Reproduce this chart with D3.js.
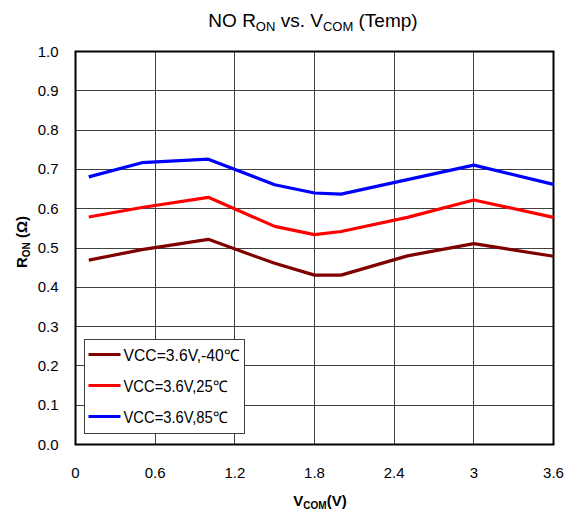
<!DOCTYPE html>
<html>
<head>
  <title>NO RON vs. VCOM (Temp)</title>
  <style type="text/css">
    body { margin: 0; background: #fff; }
    svg { display: block; font-family: "Liberation Sans", Arial, sans-serif; }
  </style>
</head>
<body>
<svg id='vis' width='574' height='517'></svg>

<script src="https://cdnjs.cloudflare.com/ajax/libs/d3/7.8.5/d3.min.js"></script>
<script type="text/javascript">

  // data
  var vcom = [0.1, 0.5, 1.0, 1.5, 1.8, 2.0, 2.5, 3.0, 3.6];
  var ronM40 = [0.469, 0.496, 0.522, 0.461, 0.431, 0.431, 0.480, 0.511, 0.479];
  var ron25  = [0.579, 0.603, 0.629, 0.555, 0.534, 0.542, 0.578, 0.622, 0.578];
  var ron85  = [0.681, 0.717, 0.726, 0.661, 0.640, 0.637, 0.674, 0.711, 0.662];
  var seriesNames = ['VCC=3.6V,-40\u2103', 'VCC=3.6V,25\u2103', 'VCC=3.6V,85\u2103'];
  var seriesColors = ['#800000', '#ff0000', '#0000ff'];
  var xTicks = [0, 0.6, 1.2, 1.8, 2.4, 3, 3.6];
  var yTicks = [0, 0.1, 0.2, 0.3, 0.4, 0.5, 0.6, 0.7, 0.8, 0.9, 1.0];

  var margin = { top: 51.5, right: 20.5, bottom: 72.5, left: 75.5 },
      width = 574 - margin.left - margin.right,
      height = 517 - margin.top - margin.bottom;

  var svg = d3.select('#vis');
  var g = svg.append('g')
    .attr('transform', 'translate(' + margin.left + ',' + margin.top + ')');

  var x = d3.scaleLinear().domain([0, 3.6]).range([0, width]);
  var y = d3.scaleLinear().domain([0, 1]).range([height, 0]);

  // grid
  g.selectAll('.hgrid').data(yTicks).enter().append('line')
    .attr('x1', 0).attr('x2', width)
    .attr('y1', function(d) { return Math.round(y(d)) })
    .attr('y2', function(d) { return Math.round(y(d)) })
    .attr('stroke', '#404040').attr('stroke-width', 1);
  g.selectAll('.vgrid').data(xTicks).enter().append('line')
    .attr('y1', 0).attr('y2', height)
    .attr('x1', function(d) { return Math.round(x(d)) })
    .attr('x2', function(d) { return Math.round(x(d)) })
    .attr('stroke', '#404040').attr('stroke-width', 1);

  // plot border
  g.append('rect')
    .attr('width', width).attr('height', height)
    .attr('fill', 'none').attr('stroke', '#000').attr('stroke-width', 2);

  // tick labels
  g.selectAll('.ylab').data(yTicks).enter().append('text')
    .attr('x', -17).attr('y', function(d) { return y(d) + 5 })
    .attr('text-anchor', 'end').attr('font-size', 15)
    .text(function(d) { return d.toFixed(1) });
  g.selectAll('.xlab').data(xTicks).enter().append('text')
    .attr('x', function(d) { return x(d) }).attr('y', height + 33)
    .attr('text-anchor', 'middle').attr('font-size', 15)
    .text(function(d) { return d });

  // series
  var series = [ronM40, ron25, ron85];
  var line = d3.line()
    .x(function(d, i) { return x(vcom[i]) })
    .y(function(d) { return y(d) });
  g.selectAll('.series').data(series).enter().append('path')
    .attr('d', line)
    .attr('fill', 'none')
    .attr('stroke', function(d, i) { return seriesColors[i] })
    .attr('stroke-width', 3.2)
    .attr('stroke-linejoin', 'round');

  // legend
  var lg = svg.append('g').attr('transform', 'translate(84.5,339.5)');
  lg.append('rect').attr('width', 160).attr('height', 94)
    .attr('fill', '#fff').attr('stroke', '#404040').attr('stroke-width', 1);
  seriesNames.forEach(function(name, i) {
    var ly = 15 + i * 31;
    lg.append('line').attr('x1', 4).attr('x2', 36).attr('y1', ly).attr('y2', ly)
      .attr('stroke', seriesColors[i]).attr('stroke-width', 3.2);
    lg.append('text').attr('x', 39).attr('y', ly + 6)
      .attr('font-size', 16)
      .attr('textLength', i == 0 ? 116 : 104)
      .attr('lengthAdjust', 'spacingAndGlyphs')
      .text(name);
  });

  // title
  var title = svg.append('text').attr('x', 313).attr('y', 27)
    .attr('text-anchor', 'middle').attr('font-size', 19);
  title.append('tspan').text('NO R');
  title.append('tspan').attr('font-size', 13).attr('dy', 4).text('ON');
  title.append('tspan').attr('dy', -4).text(' vs. V');
  title.append('tspan').attr('font-size', 13).attr('dy', 4).text('COM');
  title.append('tspan').attr('dy', -4).text(' (Temp)');

  // x axis title
  var xt = svg.append('text').attr('x', 320).attr('y', 506)
    .attr('text-anchor', 'middle').attr('font-size', 15).attr('font-weight', 'bold');
  xt.append('tspan').text('V');
  xt.append('tspan').attr('font-size', 10).attr('dy', 3).text('COM');
  xt.append('tspan').attr('dy', -3).text('(V)');

  // y axis title
  var yt = svg.append('text')
    .attr('transform', 'translate(27,242) rotate(-90)')
    .attr('text-anchor', 'middle').attr('font-size', 15).attr('font-weight', 'bold');
  yt.append('tspan').text('R');
  yt.append('tspan').attr('font-size', 10).attr('dy', 3).text('ON');
  yt.append('tspan').attr('dy', -3).text(' (\u03a9)');

</script>
</body>
</html>
